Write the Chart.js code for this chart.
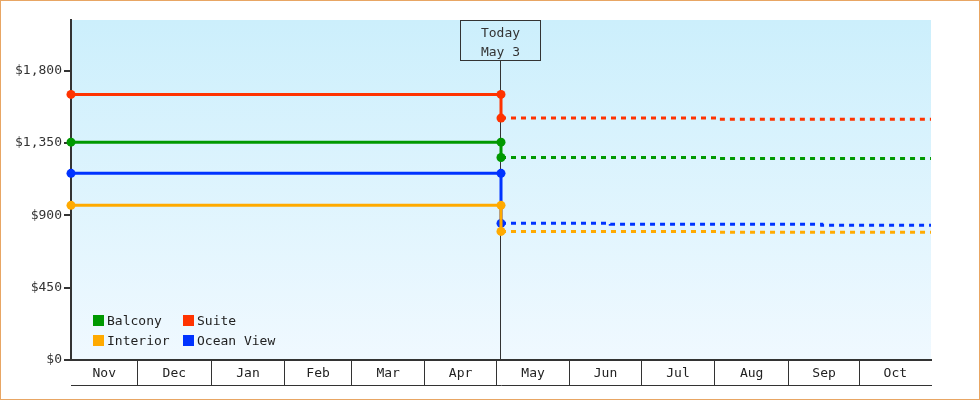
<!DOCTYPE html>
<html>
<head>
<meta charset="utf-8">
<script src="https://cdn.jsdelivr.net/npm/chart.js@4.4.0/dist/chart.umd.min.js"></script>
<style>
  html, body { margin: 0; padding: 0; background: #fff; }
  #wrap { position: relative; width: 980px; height: 400px; }
  #frame { position: absolute; left: 0; top: 0; width: 980px; height: 400px; box-sizing: border-box; border: 1px solid #e8a664; pointer-events: none; }
  #legend { position: absolute; left: 93px; top: 312px; font: 13px 'DejaVu Sans Mono', monospace; color: #222; }
  .item { position: absolute; white-space: nowrap; line-height: 18px; }
  .item i { display: inline-block; width: 11px; height: 11px; margin-right: 3px; vertical-align: -1px; }
</style>
</head>
<body>
<div id="wrap">
  <canvas id="myChart" width="980" height="400"></canvas>
  <div id="legend"></div>
  <div id="frame"></div>
</div>
<script>
// Axis range and month labels
const startDate = '2024-11-03';
const endDate = '2025-10-31';
const todayDate = '2025-05-03';
const todayLabel = ['Today', 'May 3'];
const months = ['Nov', 'Dec', 'Jan', 'Feb', 'Mar', 'Apr', 'May', 'Jun', 'Jul', 'Aug', 'Sep', 'Oct'];
const monthStarts = ['2024-11-03', '2024-12-01', '2025-01-01', '2025-02-01', '2025-03-01', '2025-04-01',
                     '2025-05-01', '2025-06-01', '2025-07-01', '2025-08-01', '2025-09-01', '2025-10-01'];
const yTicks = [0, 450, 900, 1350, 1800];
const yMax = 2115;

// Series: price before today, then forecast prices and the dates they start
const names = ['Balcony', 'Suite', 'Interior', 'Ocean View'];
const colors = ['#009900', '#ff3300', '#ffaa00', '#0033ff'];

const balconyPast = 1355;
const balconyFuture = [1260, 1254];
const balconyFutureDates = ['2025-05-03', '2025-08-03'];

const suitePast = 1652;
const suiteFuture = [1505, 1498];
const suiteFutureDates = ['2025-05-03', '2025-08-03'];

const interiorPast = 962;
const interiorFuture = [800, 794];
const interiorFutureDates = ['2025-05-03', '2025-08-03'];

const oceanPast = 1161;
const oceanFuture = [850, 844, 838];
const oceanFutureDates = ['2025-05-03', '2025-06-18', '2025-09-15'];

const pasts = [balconyPast, suitePast, interiorPast, oceanPast];
const futures = [balconyFuture, suiteFuture, interiorFuture, oceanFuture];
const futureDates = [balconyFutureDates, suiteFutureDates, interiorFutureDates, oceanFutureDates];

const day = s => (Date.parse(s) - Date.parse(startDate)) / 86400000;
const endDay = day(endDate);
const todayDay = day(todayDate);

// boundaries between months get a separator, midpoints get the label
const bounds = monthStarts.slice(1).map(day);
const edges = [0, ...bounds, endDay];
const mids = months.map((m, i) => (edges[i] + edges[i + 1]) / 2);

const datasets = [];
names.forEach((name, i) => {
    const fut = futures[i];
    datasets.push({
        label: name,
        data: [{x: 0, y: pasts[i]}, {x: todayDay, y: pasts[i]}, {x: todayDay, y: fut[0]}],
        borderColor: colors[i],
        backgroundColor: colors[i],
        borderWidth: 3,
        pointRadius: 4.5,
        pointBorderWidth: 0,
        pointBackgroundColor: colors[i],
        clip: false
    });
    const pts = futureDates[i].map((d, k) => ({x: day(d), y: fut[k]}));
    pts.push({x: endDay, y: fut[fut.length - 1]});
    datasets.push({
        label: name + ' forecast',
        data: pts,
        borderColor: colors[i],
        borderWidth: 3,
        borderDash: [5, 5],
        stepped: true,
        pointRadius: 0,
        clip: false
    });
});

const bgPlugin = {
    id: 'bg',
    beforeDraw(chart) {
        const {ctx, chartArea: a} = chart;
        const g = ctx.createLinearGradient(0, a.top, 0, a.bottom);
        g.addColorStop(0, '#ccefFC');
        g.addColorStop(1, '#f0f9ff');
        ctx.save();
        ctx.fillStyle = g;
        ctx.fillRect(a.left, a.top, a.right - a.left, a.bottom - a.top);
        ctx.restore();
    }
};

const todayPlugin = {
    id: 'today',
    beforeDatasetsDraw(chart) {
        const {ctx, chartArea: a} = chart;
        const x = Math.round(chart.scales.x.getPixelForValue(todayDay)) - 0.5;
        const boxTop = a.top + 0.5, boxH = 40, boxW = 80;
        ctx.save();
        ctx.strokeStyle = '#333';
        ctx.lineWidth = 1;
        ctx.beginPath();
        ctx.moveTo(x, boxTop + boxH);
        ctx.lineTo(x, a.bottom);
        ctx.stroke();
        ctx.strokeRect(x - boxW / 2, boxTop, boxW, boxH);
        ctx.fillStyle = '#333';
        ctx.font = "13px 'DejaVu Sans Mono'";
        ctx.textAlign = 'center';
        ctx.textBaseline = 'middle';
        ctx.fillText(todayLabel[0], x, boxTop + 13.5);
        ctx.fillText(todayLabel[1], x, boxTop + 32);
        ctx.restore();
    }
};

const font = {family: "'DejaVu Sans Mono'", size: 13};

const ctx = document.getElementById('myChart').getContext('2d');
const chart = new Chart(ctx, {
    type: 'line',
    data: {datasets: datasets},
    options: {
        responsive: false,
        animation: false,
        layout: {padding: {left: 0, right: 49, top: 20, bottom: 14}},
        plugins: {legend: {display: false}, tooltip: {enabled: false}},
        scales: {
            x: {
                type: 'linear',
                min: 0,
                max: endDay,
                weight: 0,
                afterBuildTicks: s => { s.ticks = [...bounds, ...mids].sort((a, b) => a - b).map(v => ({value: v})); },
                afterFit: s => { s.height = 25; },
                border: {display: true, color: '#333', width: 2},
                grid: {
                    drawOnChartArea: false,
                    tickLength: 25,
                    lineWidth: 1,
                    color: c => (c.tick && bounds.includes(c.tick.value)) ? '#333' : 'rgba(0,0,0,0)'
                },
                ticks: {
                    autoSkip: false,
                    maxRotation: 0,
                    padding: -19,
                    color: '#222',
                    font: font,
                    callback: v => { const k = mids.indexOf(v); return k >= 0 ? months[k] : ''; }
                }
            },
            x2: {
                type: 'linear',
                position: 'bottom',
                min: 0,
                max: endDay,
                weight: 1,
                afterFit: s => { s.height = 1; },
                border: {display: true, color: '#333', width: 1},
                grid: {display: false},
                ticks: {display: false}
            },
            y: {
                min: 0,
                max: yMax,
                afterBuildTicks: s => { s.ticks = yTicks.map(v => ({value: v})); },
                afterFit: s => { s.width = 71; },
                border: {display: true, color: '#333', width: 2},
                grid: {drawOnChartArea: false, tickLength: 7, lineWidth: 2, color: '#333'},
                ticks: {
                    padding: 2,
                    color: '#333',
                    font: font,
                    callback: v => '$' + v.toLocaleString('en-US')
                }
            }
        }
    },
    plugins: [bgPlugin, todayPlugin]
});

// legend in two columns inside the plot, like the original
const legendPos = [[0, 0], [90, 0], [0, 20], [90, 20]];
const legend = document.getElementById('legend');
names.forEach((name, i) => {
    const d = document.createElement('div');
    d.className = 'item';
    d.style.left = legendPos[i][0] + 'px';
    d.style.top = legendPos[i][1] + 'px';
    d.innerHTML = '<i style="background:' + colors[i] + '"></i>' + name;
    legend.appendChild(d);
});
</script>
</body>
</html>
